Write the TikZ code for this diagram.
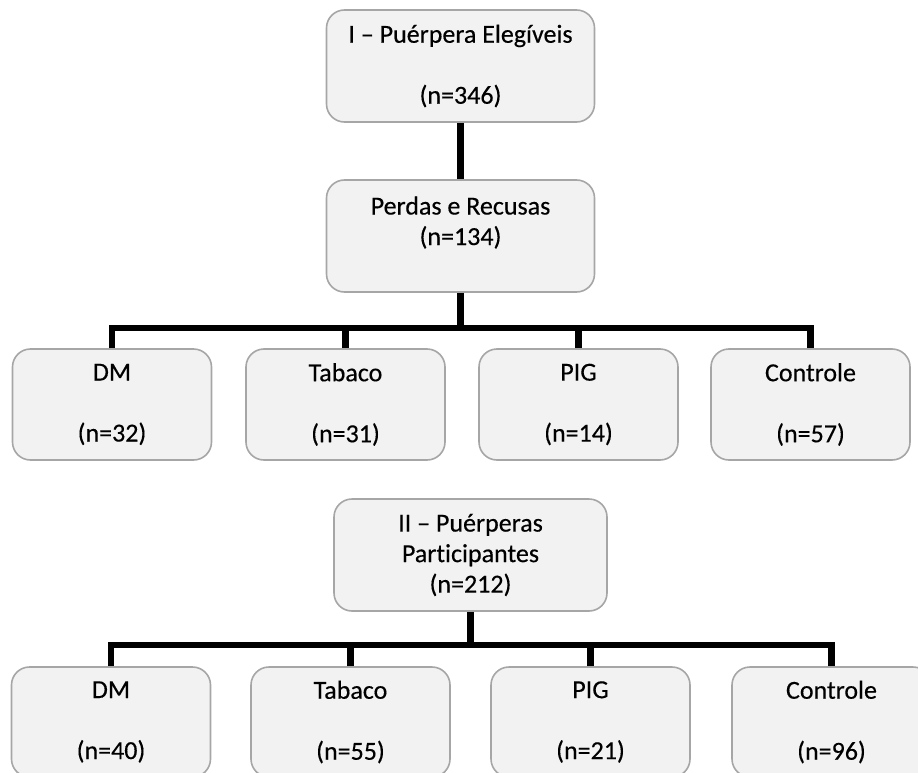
\documentclass[tikz,border=0pt]{standalone}
\usepackage{fontspec}
\setmainfont{Carlito}[Ligatures=NoCommon, FakeBold=0.35]
\definecolor{boxfill}{HTML}{F2F2F2}
\definecolor{boxgray}{HTML}{A6A6A6}
\begin{document}
\begin{tikzpicture}[x=1pt,y=-1pt,
  box/.style={draw=boxgray, fill=boxfill, line width=1.6pt, rounded corners=18pt,
    align=center, inner sep=0pt, font=\fontsize{26}{30.5}\selectfont},
  bigbox/.style={box, minimum width=268pt, minimum height=112pt},
  leaf/.style={box, minimum width=199pt, minimum height=111pt},
  conn/.style={line width=6.3pt, draw=black}]
\useasboundingbox (0,0) rectangle (918,773);
\clip (0,0) rectangle (918,773);

% Part I
\node[bigbox] (top) at (460.5,66) {I – Puérpera Elegíveis\\~\\(n=346)};
\node[bigbox] (perdas) at (460.5,236) {Perdas e Recusas\\(n=134)\\~};
\node[leaf] (a1) at (112,404.5) {DM\\~\\(n=32)};
\node[leaf] (b1) at (345.5,404.5) {Tabaco\\~\\(n=31)};
\node[leaf] (c1) at (578.5,404.5) {PIG\\~\\(n=14)};
\node[leaf] (d1) at (810.5,404.5) {Controle\\~\\(n=57)};

\draw[conn] (top) -- (perdas);
\coordinate (bus1) at (460.5,328);
\draw[conn] (perdas) -- (bus1);
\foreach \n in {a1,b1,c1,d1} \draw[conn] (\n.north) |- (bus1);

% Part II
\node[box, minimum width=273pt, minimum height=112pt] (part) at (470.5,555)
  {II – Puérperas\\Participantes\\(n=212)};
\node[leaf, minimum height=110pt] (a2) at (111,722) {DM\\~\\(n=40)};
\node[leaf, minimum height=110pt] (b2) at (350.5,722) {Tabaco\\~\\(n=55)};
\node[leaf, minimum height=110pt] (c2) at (590.5,722) {PIG\\~\\(n=21)};
\node[leaf, minimum height=110pt] (d2) at (831.5,722) {Controle\\~\\(n=96)};

\coordinate (bus2) at (470.5,645);
\draw[conn] (part) -- (bus2);
\foreach \n in {a2,b2,c2,d2} \draw[conn] (\n.north) |- (bus2);
\end{tikzpicture}
\end{document}
